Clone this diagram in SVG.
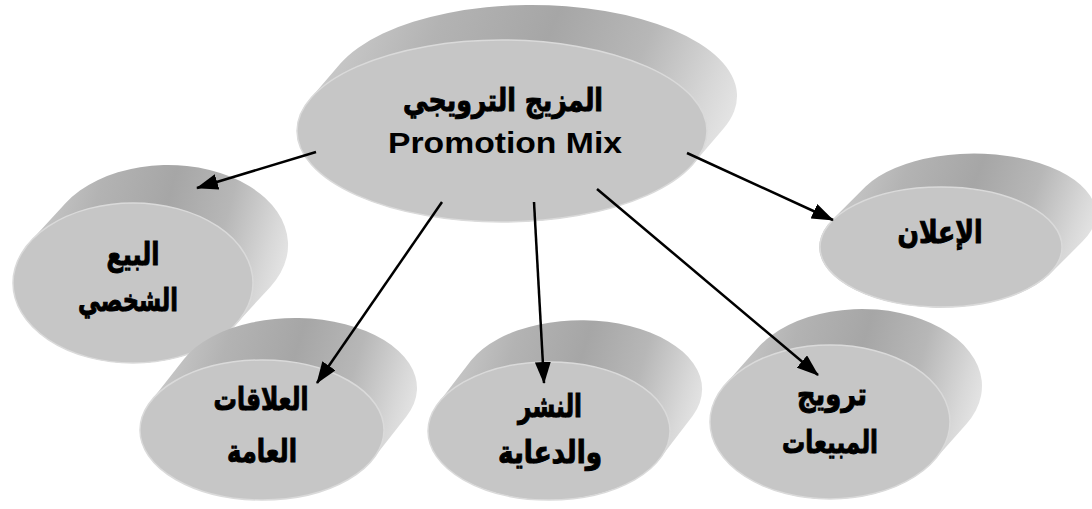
<svg xmlns="http://www.w3.org/2000/svg" width="1092" height="509" viewBox="0 0 1092 509">
<style>
.side{fill:url(#sideGrad);}
.face{fill:#c6c6c6;stroke:#dadada;stroke-width:1.5;}
.ar{font-family:"DejaVu Sans","Liberation Sans",sans-serif;font-weight:bold;font-size:31px;fill:#000;stroke:#000;stroke-width:1;text-anchor:middle;}
.en{font-family:"Liberation Sans","Open Sans",sans-serif;font-weight:bold;font-size:30px;fill:#000;text-anchor:middle;}
.conn line{stroke:#000;stroke-width:2.5;marker-end:url(#arrow);}
</style>
<defs>
<linearGradient id="sideGrad" x1="0" y1="0.4" x2="1" y2="0.6">
<stop offset="0" stop-color="#cdcdcd"/>
<stop offset="0.25" stop-color="#b3b3b3"/>
<stop offset="0.5" stop-color="#a6a6a6"/>
<stop offset="0.72" stop-color="#b7b7b7"/>
<stop offset="0.9" stop-color="#d8d8d8"/>
<stop offset="1" stop-color="#e8e8e8"/>
</linearGradient>
<marker id="arrow" markerUnits="userSpaceOnUse" markerWidth="22" markerHeight="16" viewBox="0 0 22 16" refX="21" refY="8" orient="auto">
<path d="M0,0 L22,8 L0,16 Z" fill="#000"/>
</marker>
</defs>
<rect width="1092" height="509" fill="#fff"/>

<g id="node-center">
<path class="side" d="M310.4,98.6 L340.4,63.6 A205,91 0 0 1 723.6,128.4 L693.6,163.4 A205,91 0 0 1 310.4,98.6 Z"/>
<ellipse class="face" cx="502" cy="131" rx="205" ry="91"/>
<text class="ar" x="503" y="111" textLength="200" lengthAdjust="spacingAndGlyphs">المزيج الترويجي</text>
<text class="en" x="505" y="153" textLength="234" lengthAdjust="spacingAndGlyphs">Promotion Mix</text>
</g>

<g id="node-personal-selling">
<path class="side" d="M30.7,241.1 L65.7,203.1 A120,80 0 0 1 270.3,286.9 L235.3,324.9 A120,80 0 0 1 30.7,241.1 Z"/>
<ellipse class="face" cx="133" cy="283" rx="120" ry="80"/>
<text class="ar" x="133" y="265" textLength="53" lengthAdjust="spacingAndGlyphs">البيع</text>
<text class="ar" x="128" y="311" textLength="100" lengthAdjust="spacingAndGlyphs">الشخصي</text>
</g>

<g id="node-advertising">
<path class="side" d="M832.6,219.4 L865.6,186.4 A121,60 0 0 1 1082.4,241.6 L1049.4,274.6 A121,60 0 0 1 832.6,219.4 Z"/>
<ellipse class="face" cx="941" cy="247" rx="121" ry="60"/>
<text class="ar" x="940" y="243" textLength="85" lengthAdjust="spacingAndGlyphs">الإعلان</text>
</g>

<g id="node-public-relations">
<path class="side" d="M150.8,401.2 L183.8,359.2 A122,70 0 0 1 406.2,416.8 L373.2,458.8 A122,70 0 0 1 150.8,401.2 Z"/>
<ellipse class="face" cx="262" cy="430" rx="122" ry="70"/>
<text class="ar" x="261" y="410" textLength="95" lengthAdjust="spacingAndGlyphs">العلاقات</text>
<text class="ar" x="262" y="462" textLength="70" lengthAdjust="spacingAndGlyphs">العامة</text>
</g>

<g id="node-publicity">
<path class="side" d="M438.2,403.3 L471.2,360.3 A121,69 0 0 1 692.8,415.7 L659.8,458.7 A121,69 0 0 1 438.2,403.3 Z"/>
<ellipse class="face" cx="549" cy="431" rx="121" ry="69"/>
<text class="ar" x="550" y="417" textLength="64" lengthAdjust="spacingAndGlyphs">النشر</text>
<text class="ar" x="550" y="463" textLength="104" lengthAdjust="spacingAndGlyphs">والدعاية</text>
</g>

<g id="node-sales-promotion">
<path class="side" d="M725.8,383.8 L757.8,347.8 A120,77 0 0 1 966.2,424.2 L934.2,460.2 A120,77 0 0 1 725.8,383.8 Z"/>
<ellipse class="face" cx="830" cy="422" rx="120" ry="77"/>
<text class="ar" x="832" y="405" textLength="70" lengthAdjust="spacingAndGlyphs">ترويج</text>
<text class="ar" x="830" y="453" textLength="96" lengthAdjust="spacingAndGlyphs">المبيعات</text>
</g>

<g id="connectors" class="conn">
<line x1="316" y1="152" x2="197" y2="188"/>
<line x1="442" y1="202" x2="317" y2="383"/>
<line x1="534" y1="202" x2="544" y2="383"/>
<line x1="597" y1="189" x2="818" y2="375"/>
<line x1="687" y1="153" x2="833" y2="220"/>
</g>
</svg>
